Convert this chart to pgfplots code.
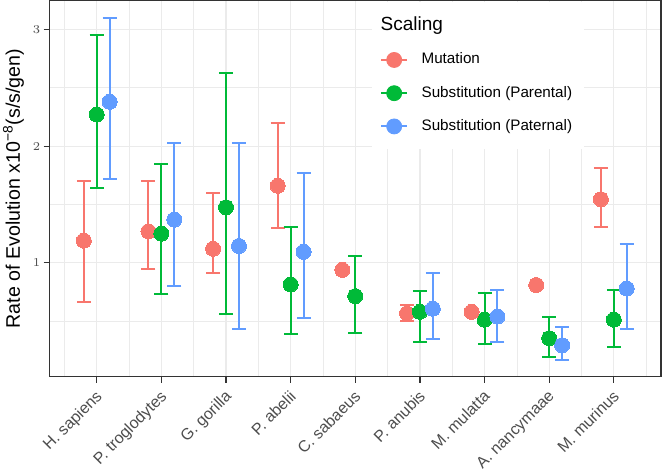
\documentclass[border=0pt]{standalone}
\usepackage{pgfplots}
\usepackage{pgfplotstable}
\pgfplotsset{compat=1.18}
\usepackage{fontspec}
\setmainfont{Liberation Sans}

\definecolor{mutcol}{HTML}{F8766D}
\definecolor{parcol}{HTML}{00BA38}
\definecolor{patcol}{HTML}{619CFF}
\definecolor{gridcol}{HTML}{EBEBEB}
\definecolor{tickcol}{HTML}{4D4D4D}
\definecolor{framecol}{HTML}{333333}

% x = category position (dodged by 0.2), y = estimate, lo/hi = interval ends
\pgfplotstableread{
x    y      lo     hi
0.8  1.19   0.667  1.70
1.8  1.27   0.946  1.70
2.8  1.12   0.91   1.60
3.8  1.66   1.30   2.20
5.8  0.567  0.50   0.64
8.8  1.545  1.31   1.81
}\mutation
% mutation rates with no interval
\pgfplotstableread{
x    y
4.8  0.94
6.8  0.58
7.8  0.81
}\mutationpt
\pgfplotstableread{
x    y      lo     hi
1    2.27   1.64   2.95
2    1.25   0.733  1.85
3    1.476  0.56   2.63
4    0.815  0.393  1.31
5    0.715  0.40   1.06
6    0.58   0.325  0.758
7    0.513  0.308  0.744
8    0.354  0.197  0.536
9    0.513  0.282  0.767
}\parental
\pgfplotstableread{
x    y      lo     hi
1.2  2.38   1.72   3.10
2.2  1.37   0.80   2.03
3.2  1.145  0.433  2.03
4.2  1.094  0.53   1.77
6.2  0.607  0.345  0.915
7.2  0.54   0.325  0.77
8.2  0.294  0.166  0.45
9.2  0.78   0.433  1.16
}\paternal

\pgfplotsset{
  series/.style={
    only marks, mark=*, mark size=3.75pt,
    mark options={fill=#1, draw=#1, line width=0pt},
    error bars/y dir=both, error bars/y explicit,
    error bars/error bar style={line width=1pt, #1},
    error bars/error mark options={rotate=90, mark size=3.5pt, line width=1pt, #1},
    legend image code/.code={
      \draw[#1, line width=1pt] (0pt,0pt) -- (13pt,0pt);
      \fill[#1] (6.5pt,0pt) circle (3.75pt);
      \path (18pt,0pt);
    },
  },
}

\begin{document}
\begin{tikzpicture}[trim right={([xshift=0.5pt]current axis.east)}]
\begin{axis}[
  scale only axis,
  width=305.5pt, height=188pt,
  xmin=0.27, xmax=9.73,
  ymin=0.023, ymax=3.247,
  xtick={1,...,9},
  xticklabels={H. sapiens, P. troglodytes, G. gorilla, P. abelii, C. sabaeus,
    P. anubis, M. mulatta, A. nancymaae, M. murinus},
  minor xtick={0.5,1.5,...,9.5},
  ytick={1,2,3},
  minor ytick={0.5,1.5,2.5},
  grid=both,
  major grid style={gridcol, line width=0.6pt},
  minor grid style={gridcol, line width=0.35pt},
  axis line style={framecol, line width=0.6pt},
  tick style={framecol, line width=0.6pt},
  major tick length=3pt, minor tick length=0pt,
  tick align=outside, tick pos=left,
  x tick label style={font=\fontsize{8}{9.6}\selectfont, text=tickcol,
    xshift=-1pt, yshift=-1.5pt, rotate=45, anchor=north east, inner sep=1pt},
  y tick label style={font=\fontsize{6.3}{7.5}\selectfont, text=tickcol,
    inner xsep=1.4pt},
  ylabel={Rate of Evolution x10\textsuperscript{−8}(s/s/gen)},
  ylabel style={font=\fontsize{9.8}{11.5}\selectfont, inner sep=1.5pt,
    at={(axis description cs:-0.059,0.5)}, anchor=center},
  legend cell align=left,
  legend style={at={(0.527,0.998)}, anchor=north west, fill=white, draw=none,
    font=\fontsize{7.6}{9}\selectfont, row sep=5.6pt,
    inner xsep=4pt, inner ysep=5.6pt},
]
\addlegendimage{empty legend}
\addlegendentry{\hspace*{-20.5pt}\fontsize{9.5}{11}\selectfont Scaling}

\addplot[series=mutcol] table[x=x, y=y,
  y error plus expr=\thisrow{hi}-\thisrow{y},
  y error minus expr=\thisrow{y}-\thisrow{lo}] {\mutation};
\addlegendentry{Mutation}
\addplot[series=parcol] table[x=x, y=y,
  y error plus expr=\thisrow{hi}-\thisrow{y},
  y error minus expr=\thisrow{y}-\thisrow{lo}] {\parental};
\addlegendentry{Substitution (Parental)}
\addplot[series=patcol] table[x=x, y=y,
  y error plus expr=\thisrow{hi}-\thisrow{y},
  y error minus expr=\thisrow{y}-\thisrow{lo}] {\paternal};
\addlegendentry{Substitution (Paternal)}
\addplot[forget plot, only marks, mark=*, mark size=3.75pt,
  mark options={fill=mutcol, draw=mutcol, line width=0pt}]
  table[x=x, y=y] {\mutationpt};
\end{axis}
\end{tikzpicture}
\end{document}
